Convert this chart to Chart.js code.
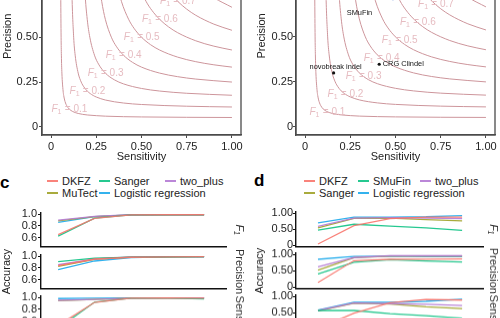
<!DOCTYPE html>
<html>
<head>
<meta charset="utf-8">
<script src="https://cdn.jsdelivr.net/npm/chart.js@4/dist/chart.umd.min.js"></script>
<style>
html, body { margin: 0; padding: 0; background: #fff; }
body { width: 500px; height: 318px; overflow: hidden; position: relative; font-family: 'Liberation Sans', Arial, sans-serif; color: #222; }
.box { position: absolute; }
.tag { position: absolute; font-weight: bold; font-size: 17px; line-height: 17px; color: #000; }
.leg { position: absolute; font-size: 11px; line-height: 12px; white-space: nowrap; }
.leg i { display: inline-block; width: 11px; height: 2.5px; margin-right: 4px; vertical-align: middle; position: relative; top: -1px; }
</style>
</head>
<body>
<div class="box" style="left:0;top:-70px;width:250px;height:234px"><canvas id="chartA"></canvas></div>
<div class="box" style="left:250px;top:-70px;width:250px;height:234px"><canvas id="chartB"></canvas></div>

<div class="tag" style="left:0;top:174px">c</div>
<div class="tag" style="left:254px;top:172px">d</div>
<div id="legC"></div>
<div id="legD"></div>

<div class="box" style="left:0;top:204.6px;width:250px;height:49.2px"><canvas id="c1"></canvas></div>
<div class="box" style="left:0;top:246.6px;width:250px;height:49.2px"><canvas id="c2"></canvas></div>
<div class="box" style="left:0;top:288.4px;width:250px;height:49.2px"><canvas id="c3"></canvas></div>
<div class="box" style="left:250px;top:204.5px;width:250px;height:48.5px"><canvas id="d1"></canvas></div>
<div class="box" style="left:250px;top:246.3px;width:250px;height:48.5px"><canvas id="d2"></canvas></div>
<div class="box" style="left:250px;top:288.2px;width:250px;height:48.5px"><canvas id="d3"></canvas></div>

<script>
// iso-F1 reference curves, [sensitivity, precision] pairs
const f1Levels = [0.1, 0.2, 0.3, 0.4, 0.5, 0.6, 0.7, 0.8, 0.9];
const curve01 = [[0.0526, 1], [0.0536, 0.75], [0.0556, 0.5], [0.0571, 0.4], [0.06, 0.3], [0.0667, 0.2], [0.07, 0.175], [0.075, 0.15], [0.08, 0.1333], [0.0857, 0.12], [0.1, 0.1], [0.12, 0.0857], [0.1333, 0.08], [0.15, 0.075], [0.175, 0.07], [0.2, 0.0667], [0.3, 0.06], [0.4, 0.0571], [0.5, 0.0556], [0.75, 0.0536], [1, 0.0526]];
const curve02 = [[0.1111, 1], [0.1154, 0.75], [0.125, 0.5], [0.1333, 0.4], [0.15, 0.3], [0.1667, 0.25], [0.175, 0.2333], [0.2, 0.2], [0.2333, 0.175], [0.25, 0.1667], [0.3, 0.15], [0.4, 0.1333], [0.5, 0.125], [0.75, 0.1154], [1, 0.1111]];
const curve03 = [[0.1765, 1], [0.1875, 0.75], [0.2, 0.6], [0.2143, 0.5], [0.24, 0.4], [0.2625, 0.35], [0.3, 0.3], [0.35, 0.2625], [0.4, 0.24], [0.5, 0.2143], [0.6, 0.2], [0.75, 0.1875], [1, 0.1765]];
const curve04 = [[0.25, 1], [0.2667, 0.8], [0.28, 0.7], [0.3, 0.6], [0.3333, 0.5], [0.36, 0.45], [0.4, 0.4], [0.45, 0.36], [0.5, 0.3333], [0.6, 0.3], [0.7, 0.28], [0.8, 0.2667], [1, 0.25]];
const curve05 = [[0.3333, 1], [0.3462, 0.9], [0.3636, 0.8], [0.3889, 0.7], [0.4286, 0.6], [0.4583, 0.55], [0.5, 0.5], [0.55, 0.4583], [0.6, 0.4286], [0.7, 0.3889], [0.8, 0.3636], [0.9, 0.3462], [1, 0.3333]];
const curve06 = [[0.4286, 1], [0.45, 0.9], [0.48, 0.8], [0.525, 0.7], [0.5571, 0.65], [0.6, 0.6], [0.65, 0.5571], [0.7, 0.525], [0.8, 0.48], [0.9, 0.45], [1, 0.4286]];
const curve07 = [[0.5385, 1], [0.5727, 0.9], [0.6222, 0.8], [0.6563, 0.75], [0.7, 0.7], [0.75, 0.6563], [0.8, 0.6222], [0.9, 0.5727], [1, 0.5385]];
const curve08 = [[0.6667, 1], [0.72, 0.9], [0.7556, 0.85], [0.8, 0.8], [0.85, 0.7556], [0.9, 0.72], [1, 0.6667]];
const curve09 = [[0.8182, 1], [0.855, 0.95], [0.9, 0.9], [0.95, 0.855], [1, 0.8182]];
const isoCurves = [curve01, curve02, curve03, curve04, curve05, curve06, curve07, curve08, curve09];

const axisTicks = [0, 0.25, 0.5, 0.75, 1];
const axisTickLabels = ['0', '0.25', '0.50', '0.75', '1.00'];

// called indel sets in panel b
const pointNames = ['novobreak indel', 'CRG Clindel', 'SMuFin'];
const pointSens = [0.158, 0.41, 0.486];
const pointPrec = [0.30, 0.348, 0.712];

// panels c and d: five steps along x, one row per method
const steps = [1, 2, 3, 4, 5];

const cMethods = ['DKFZ', 'Sanger', 'two_plus', 'MuTect', 'Logistic regression'];
const cF1 = [
    [0.65, 0.925, 0.985, 0.988, 0.988],
    [0.625, 0.93, 0.985, 0.987, 0.985],
    [0.895, 0.96, 0.988, 0.99, 0.99],
    [0.885, 0.955, 0.987, 0.99, 0.99],
    [0.86, 0.955, 0.985, 0.987, 0.985]
];
const cPrecision = [
    [0.837, 0.95, 0.98, 0.985, 0.99],
    [0.905, 0.965, 0.982, 0.985, 0.99],
    [0.852, 0.95, 0.985, 0.99, 0.99],
    [0.826, 0.945, 0.982, 0.988, 0.99],
    [0.767, 0.916, 0.975, 0.985, 0.988]
];
const cSensitivity = [
    [0.53, 0.915, 0.985, 0.988, 0.985],
    [0.48, 0.92, 0.985, 0.985, 0.975],
    [0.95, 0.965, 0.985, 0.99, 0.99],
    [0.945, 0.965, 0.985, 0.99, 0.99],
    [0.98, 0.985, 0.99, 0.99, 0.985]
];
const cTicks = [0.6, 0.8, 1.0];
const cTickLabels = ['0.6', '0.8', '1.0'];

const dMethods = ['DKFZ', 'SMuFin', 'two_plus', 'Sanger', 'Logistic regression'];
const dF1 = [
    [0.04, 0.61, 0.83, 0.88, 0.875],
    [0.475, 0.656, 0.60, 0.54, 0.466],
    [0.59, 0.846, 0.86, 0.85, 0.83],
    [0.54, 0.84, 0.85, 0.80, 0.76],
    [0.70, 0.88, 0.88, 0.89, 0.925]
];
const dPrecision = [
    [0.14, 0.81, 0.85, 0.855, 0.86],
    [0.40, 0.76, 0.84, 0.80, 0.77],
    [0.62, 0.905, 0.96, 0.96, 0.96],
    [0.52, 0.90, 0.95, 0.95, 0.95],
    [0.85, 0.94, 0.95, 0.93, 0.935]
];
const dSensitivity = [
    [0.023, 0.49, 0.81, 0.91, 0.89],
    [0.57, 0.57, 0.47, 0.41, 0.335],
    [0.57, 0.80, 0.78, 0.76, 0.72],
    [0.555, 0.79, 0.77, 0.68, 0.63],
    [0.585, 0.82, 0.82, 0.85, 0.915]
];
const dTicks = [0, 0.5, 1.0];
const dTickLabels = ['0', '0.50', '1.00'];

const methodColors = {
    'DKFZ': 'rgba(248,118,109,0.9)',
    'Sanger': 'rgba(0,190,125,0.85)',
    'SMuFin': 'rgba(0,190,125,0.85)',
    'two_plus': 'rgba(180,122,212,0.9)',
    'MuTect': 'rgba(160,162,40,0.9)',
    'Logistic regression': 'rgba(30,170,235,0.9)'
};
// Sanger is green in c, olive in d
const dColors = Object.assign({}, methodColors, { 'Sanger': 'rgba(160,162,40,0.9)' });

const FONT = "'Liberation Sans', Arial, sans-serif";
Chart.defaults.font.family = FONT;
Chart.defaults.font.size = 11;
Chart.defaults.color = '#222';
Chart.defaults.animation = false;

// full box around the plotting area
const frame = {
    id: 'frame',
    afterDraw(chart, args, o) {
        const a = chart.chartArea, ctx = chart.ctx;
        ctx.save();
        ctx.strokeStyle = o.color;
        ctx.lineWidth = o.width;
        ctx.strokeRect(a.left, a.top, a.right - a.left, a.bottom - a.top);
        ctx.restore();
    }
};

// "F1 = 0.x" labels at the point where each curve crosses the diagonal
const isoText = {
    id: 'isoText',
    afterDatasetsDraw(chart, args, o) {
        const { ctx, chartArea: a, scales: { x, y } } = chart;
        ctx.save();
        ctx.beginPath();
        ctx.rect(a.left, a.top, a.right - a.left, a.bottom - a.top);
        ctx.clip();
        ctx.fillStyle = o.color;
        ctx.textBaseline = 'middle';
        ctx.textAlign = 'left';
        f1Levels.forEach(f => {
            const rest = ' = ' + f.toFixed(1);
            ctx.font = 'italic 10px ' + FONT;
            const wF = ctx.measureText('F').width;
            ctx.font = '7px ' + FONT;
            const w1 = ctx.measureText('1').width;
            ctx.font = '10px ' + FONT;
            const wR = ctx.measureText(rest).width;
            let px = x.getPixelForValue(f) + o.dx - (wF + w1 + wR) / 2;
            const py = y.getPixelForValue(f) + o.dy;
            ctx.font = 'italic 10px ' + FONT;
            ctx.fillText('F', px, py);
            px += wF;
            ctx.font = '7px ' + FONT;
            ctx.fillText('1', px, py + 3);
            px += w1 + 0.5;
            ctx.font = '10px ' + FONT;
            ctx.fillText(rest, px, py);
        });
        ctx.restore();
    }
};

const pointText = {
    id: 'pointText',
    afterDatasetsDraw(chart, args, o) {
        const { ctx, scales: { x, y } } = chart;
        ctx.save();
        ctx.font = '7.4px ' + FONT;
        ctx.fillStyle = '#111';
        ctx.textBaseline = 'middle';
        pointNames.forEach((n, i) => {
            const [dx, dy, align] = o.offsets[i];
            ctx.textAlign = align;
            ctx.fillText(n, x.getPixelForValue(pointSens[i]) + dx, y.getPixelForValue(pointPrec[i]) + dy);
        });
        ctx.restore();
    }
};

function tickScale(vals, labels) {
    return {
        afterBuildTicks: s => { s.ticks = vals.map(v => ({ value: v })); },
        callback: v => labels[vals.indexOf(v)]
    };
}

function f1Chart(id, cfg) {
    const xt = tickScale(axisTicks, axisTickLabels);
    const datasets = isoCurves.map(c => ({
        data: c,
        showLine: true,
        borderColor: '#cd959b',
        borderWidth: 1,
        pointRadius: 0,
        cubicInterpolationMode: 'monotone'
    }));
    if (cfg.points) {
        datasets.unshift({
            data: pointSens.map((s, i) => [s, pointPrec[i]]),
            showLine: false,
            pointRadius: 1.6,
            pointBorderWidth: 0,
            backgroundColor: ['#111', '#111', '#3d6cc9']
        });
    }
    new Chart(document.getElementById(id), {
        type: 'scatter',
        data: { datasets },
        options: {
            responsive: true,
            maintainAspectRatio: false,
            layout: { padding: { top: 7, right: cfg.padRight, left: 0, bottom: 0 } },
            plugins: {
                legend: { display: false },
                tooltip: { enabled: false },
                frame: { color: '#4a4a4a', width: 1.3 },
                isoText: { color: '#e6bcc1', dx: cfg.labelDx, dy: cfg.labelDy },
                pointText: { offsets: [[2, -6, 'center'], [3.5, 0, 'left'], [-33.5, 14, 'center']] }
            },
            scales: {
                x: {
                    type: 'linear', min: -0.05, max: 1.05,
                    afterBuildTicks: xt.afterBuildTicks,
                    ticks: { callback: xt.callback, maxRotation: 0, autoSkip: false, padding: 2, color: '#222' },
                    grid: { drawOnChartArea: false, tickLength: 3, color: '#4a4a4a' },
                    border: { color: '#4a4a4a', width: 1.3 },
                    title: { display: true, text: 'Sensitivity', padding: 0, color: '#222' },
                    afterFit: s => { s.height = 29; }
                },
                y: {
                    type: 'linear', min: -0.045, max: 1.055,
                    afterBuildTicks: xt.afterBuildTicks,
                    ticks: { callback: xt.callback, autoSkip: false, padding: cfg.tickPad, color: '#222' },
                    grid: { drawOnChartArea: false, tickLength: 3, color: '#4a4a4a' },
                    border: { color: '#4a4a4a', width: 1.3 },
                    title: { display: true, text: 'Precision', padding: { top: cfg.titlePad, bottom: 0 }, color: '#222' },
                    afterFit: s => { s.width = cfg.leftW; }
                }
            }
        },
        plugins: cfg.points ? [isoText, pointText, frame] : [isoText, frame]
    });
}

f1Chart('chartA', { padRight: 9, leftW: 42, tickPad: 1, titlePad: 1, labelDx: 0, labelDy: 0, points: false });
f1Chart('chartB', { padRight: 5, leftW: 46, tickPad: 0, titlePad: 5, labelDx: 4, labelDy: 3, points: true });

function facet(id, methods, colors, values, cfg) {
    const yt = tickScale(cfg.ticks, cfg.tickLabels);
    const datasets = methods.map((m, i) => ({
        label: m,
        data: steps.map((s, j) => ({ x: s, y: values[i][j] })),
        borderColor: colors[m],
        borderWidth: 1.3,
        pointRadius: 0,
        tension: 0,
        yAxisID: 'y'
    }));
    new Chart(document.getElementById(id), {
        type: 'line',
        data: { datasets },
        options: {
            responsive: true,
            maintainAspectRatio: false,
            layout: { padding: { top: 6, bottom: 2, left: 0, right: cfg.padRight } },
            plugins: { legend: { display: false }, tooltip: { enabled: false } },
            scales: {
                x: {
                    type: 'linear', min: cfg.xMin, max: cfg.xMax,
                    ticks: { display: false },
                    grid: { display: false },
                    border: { display: true, color: '#111', width: 1.4 },
                    afterFit: s => { s.height = 2; }
                },
                y: {
                    type: 'linear', position: 'left', min: cfg.yMin, max: cfg.yMax,
                    afterBuildTicks: yt.afterBuildTicks,
                    ticks: { callback: yt.callback, autoSkip: false, padding: cfg.tickPad, color: '#222' },
                    grid: { drawOnChartArea: false, tickLength: 3, color: '#111' },
                    border: { color: '#111', width: 1.4 },
                    title: { display: cfg.yTitle, text: 'Accuracy', padding: { top: cfg.titlePad, bottom: 0 }, color: '#222' },
                    afterFit: s => { s.width = cfg.leftW; }
                },
                strip: {
                    type: 'linear', position: 'right',
                    ticks: { display: false },
                    grid: { display: false },
                    border: { display: false },
                    title: {
                        display: true, text: cfg.strip, align: cfg.stripAlign, padding: 0, color: '#333',
                        font: { size: 11, style: cfg.italic ? 'italic' : 'normal' }
                    },
                    afterFit: s => { s.width = cfg.rightW; }
                }
            }
        }
    });
}

const cBase = { ticks: cTicks, tickLabels: cTickLabels, yMin: 0.445, yMax: 1.025, xMin: 0.53, xMax: 5.6, leftW: 41, rightW: 20, padRight: 4, tickPad: 1, titlePad: 0 };
const dBase = { ticks: dTicks, tickLabels: dTickLabels, yMin: -0.05, yMax: 1.05, xMin: 0.39, xMax: 5.58, leftW: 46, rightW: 17, padRight: 0, tickPad: 0, titlePad: 3 };

facet('c1', cMethods, methodColors, cF1, Object.assign({}, cBase, { strip: 'F\u2081', italic: true, stripAlign: 'center', yTitle: false }));
facet('c2', cMethods, methodColors, cPrecision, Object.assign({}, cBase, { strip: 'Precision', stripAlign: 'center', yTitle: true }));
facet('c3', cMethods, methodColors, cSensitivity, Object.assign({}, cBase, { strip: 'Sensitivity', stripAlign: 'end', yTitle: false }));
facet('d1', dMethods, dColors, dF1, Object.assign({}, dBase, { strip: 'F\u2081', italic: true, stripAlign: 'center', yTitle: false }));
facet('d2', dMethods, dColors, dPrecision, Object.assign({}, dBase, { strip: 'Precision', stripAlign: 'center', yTitle: true }));
facet('d3', dMethods, dColors, dSensitivity, Object.assign({}, dBase, { strip: 'Sensitivity', stripAlign: 'end', yTitle: false }));

// legends: three columns, filled row by row
function legend(el, methods, colors, cols, rows) {
    el.innerHTML = methods.map((m, i) => {
        const left = cols[i % 3], top = rows[Math.floor(i / 3)] - 6;
        return '<div class="leg" style="left:' + left + 'px;top:' + top + 'px"><i style="background:' + colors[m] + '"></i>' + m + '</div>';
    }).join('');
}
legend(document.getElementById('legC'), cMethods, methodColors, [47, 99, 165], [181, 193]);
legend(document.getElementById('legD'), dMethods, dColors, [304, 358, 420], [181, 193]);
</script>
</body>
</html>
